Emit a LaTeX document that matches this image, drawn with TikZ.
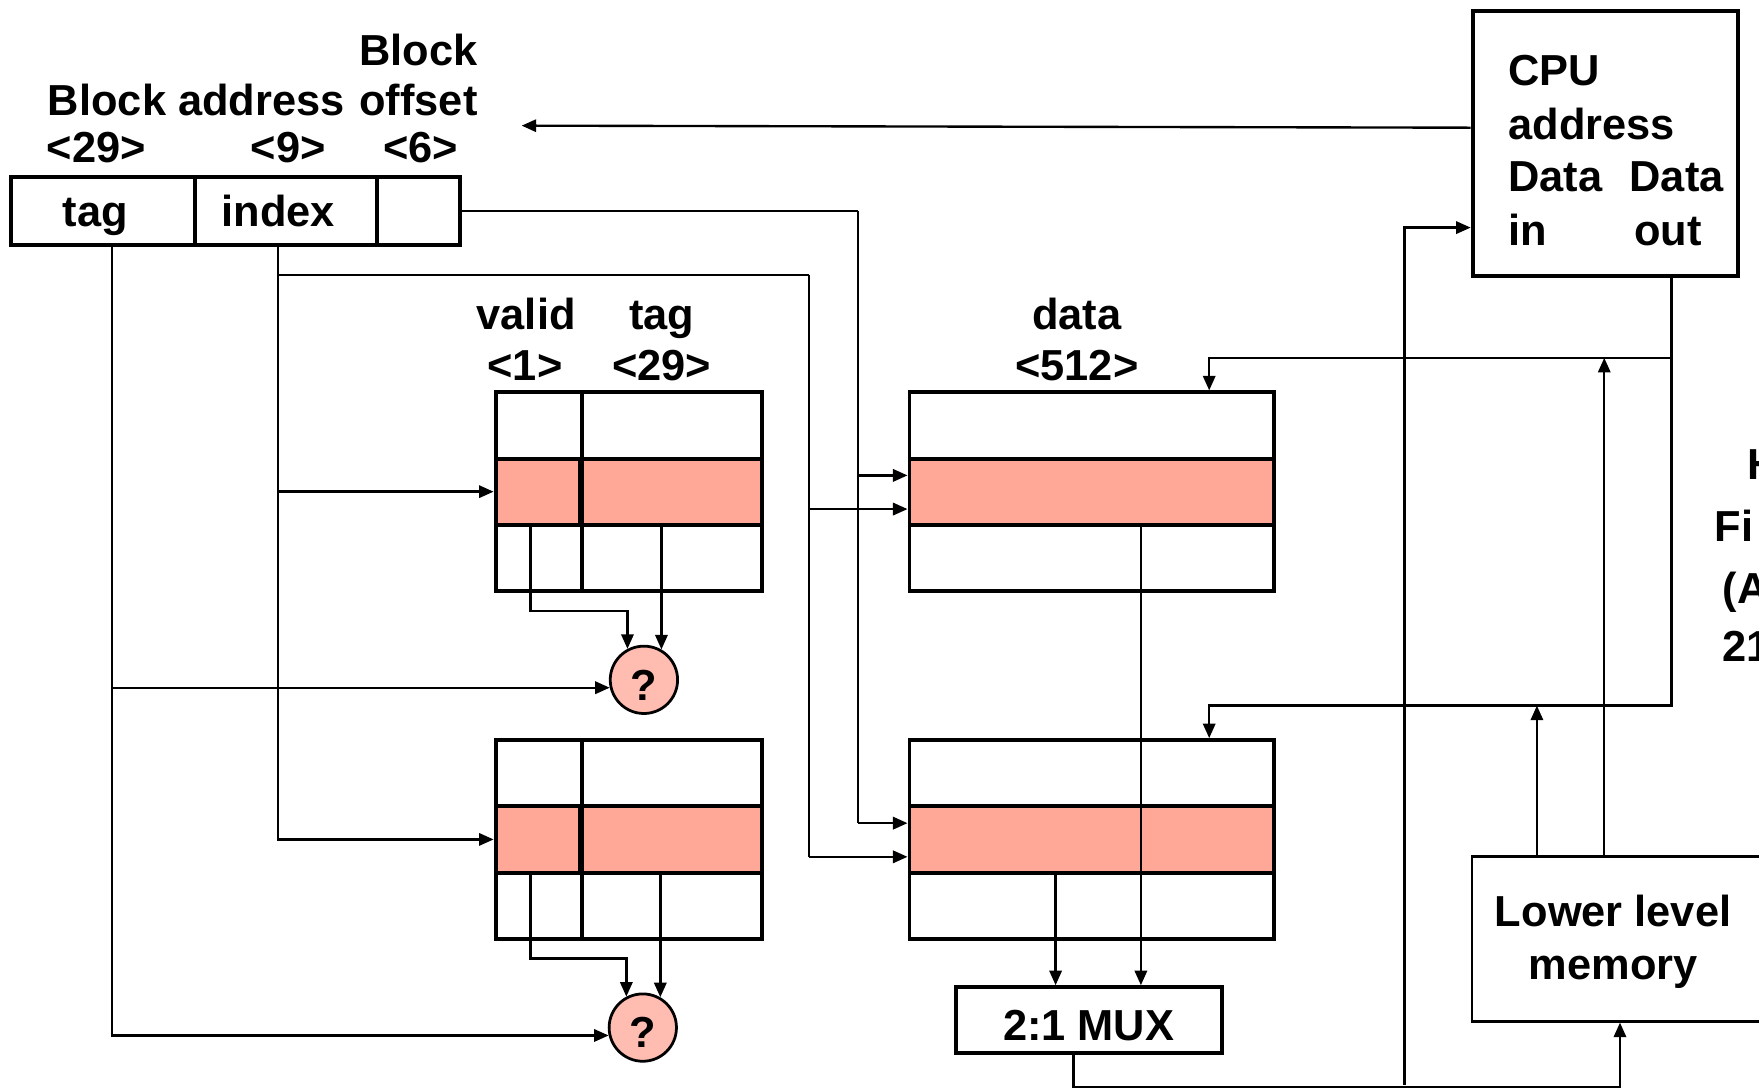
\documentclass[tikz,border=0pt]{standalone}
\usepackage{fontspec}
\setmainfont{Liberation Sans}
\usetikzlibrary{arrows.meta,positioning}
\definecolor{hitrow}{HTML}{FFA898}
\definecolor{cmpfill}{HTML}{FFBCB0}
\begin{document}
\begin{tikzpicture}[x=0.01cm,y=-0.01cm,
  every node/.style={font=\fontsize{11}{13.6}\selectfont\bfseries,inner sep=0pt},
  field/.style={draw,line width=1pt,minimum height=6mm,text height=2.8mm,text depth=0pt},
  frame/.style={draw,line width=1pt,minimum height=17.7mm},
  row/.style={draw,line width=1pt,fill=hitrow,minimum height=5.9mm},
  cmp/.style={draw,circle,line width=0.7pt,fill=cmpfill,minimum size=6mm,text height=3.6mm,text depth=0pt},
  box/.style={draw,line width=1pt},
  wire/.style={line width=0.6pt},
  arr/.style={wire,-{Triangle[length=1.3mm,width=1.1mm]}}]
  \useasboundingbox (0,0) rectangle (1568,969);
  \node[field,minimum width=16.4mm] (ftag) at (92,188) {tag\hspace*{1.4mm}};
  \node[field,minimum width=16.2mm] (fidx) at (255,188) {index\hspace*{1.4mm}};
  \node[field,minimum width=7.4mm] (foff) at (373,188) {};
  \node[anchor=base] (lblk) at (373,58) {Block};
  \node[anchor=base] (loff) at (373,103) {offset};
  \node[anchor=base] (laddr) at (175,103) {Block address};
  \node[anchor=base] (ltagw) at (86,145) {<29>};
  \node[anchor=base] (lidxw) at (257,145) {<9>};
  \node[anchor=base] (loffw) at (375,145) {<6>};
  \foreach \s/\y in {a/348,b/658} {
    \node[frame,minimum width=23.7mm,anchor=north west] (tf\s) at (440,\y) {};
    \node[row,minimum width=7.5mm,anchor=north west] (v\s) at (440,\y+59) {};
    \node[row,minimum width=16.2mm,anchor=north west] (t\s) at (515,\y+59) {};
    \draw[line width=1pt] (v\s.east |- tf\s.north) -- (v\s.east |- tf\s.south);
    \node[frame,minimum width=32.5mm,anchor=north west] (df\s) at (809,\y) {};
    \node[row,minimum width=32.5mm,anchor=north west] (d\s) at (809,\y+59) {};
  }
  \node[anchor=base] (lval) at (469,294) {valid};
  \node[anchor=base] (lvalw) at (468,339) {<1>};
  \node[anchor=base] (ltg) at (590,294) {tag};
  \node[anchor=base] (ltgw) at (590,339) {<29>};
  \node[anchor=base] (ldat) at (960,294) {data};
  \node[anchor=base] (ldatw) at (960,339) {<512>};
  \node[cmp] (qa) at (574,606) {?};
  \node[cmp] (qb) at (573,916) {?};
  \node[box,minimum width=23.7mm,minimum height=5.9mm,text height=3.6mm,text depth=0pt] (mux) at (970.5,909.5) {2:1 MUX};
  \node[box,minimum width=23.6mm,minimum height=23.6mm,anchor=north west] (cpu) at (1311,8) {};
  \node[anchor=base west] (lcpu) at (1344,76) {CPU};
  \node[anchor=base west] (lcpua) at (1344,124) {address};
  \node[anchor=base west] (ldin) at (1344,171) {Data};
  \node[anchor=base west] (ldout) at (1452,171) {Data};
  \node[anchor=base west] (lin) at (1344,219) {in};
  \node[anchor=base west] (lout) at (1456,219) {out};
  \node[box,line width=0.7pt,minimum width=30mm,minimum height=14.7mm,anchor=north west] (mem) at (1311,762) {};
  \node[anchor=base] (lmem) at (1438,826) {Lower level};
  \node[anchor=base] (lmemb) at (1438,873) {memory};
  \node[anchor=base west] (lh) at (1557,427) {H};
  \node[anchor=base west] (lfi) at (1528,483) {Fi};
  \node[anchor=base west] (la) at (1535,538) {(A};
  \node[anchor=base west] (lnum) at (1535,590) {21};
  \coordinate (tagbus) at (100,218);
  \coordinate (idxbus) at (248,218);
  \coordinate (ixrt) at (721,245);
  \coordinate (ofrt) at (765,188);
  \draw[arr] (tagbus) |- (qb.193);
  \draw[arr] (tagbus |- qa.193) -- (qa.193);
  \draw[arr] (idxbus) |- (vb.west);
  \draw[arr] (idxbus |- va.west) -- (va.west);
  \draw[wire] (idxbus |- ixrt) -- (ixrt);
  \draw[wire] (foff.east) -- (ofrt);
  \foreach \s in {a,b} {
    \coordinate (oin\s) at ([yshift=1.45mm]d\s.west);
    \coordinate (iin\s) at ([yshift=-1.55mm]d\s.west);
    \draw[arr] (ofrt |- oin\s) -- (oin\s);
    \draw[arr] (ixrt |- iin\s) -- (iin\s);
    \draw[arr] ([xshift=-0.65mm]v\s.south) -- ++(0,75) -| (q\s.118);
    \draw[arr] (q\s.60 |- t\s.south) -- (q\s.60);
  }
  \draw[wire] (ofrt) -- (ofrt |- oinb);
  \draw[wire] (ixrt) -- (ixrt |- iinb);
  \coordinate (muxa) at ([xshift=4.65mm]mux.north);
  \coordinate (muxb) at ([xshift=-2.95mm]mux.north);
  \draw[arr] (muxa |- da.south) -- (muxa);
  \draw[arr] (muxb |- db.south) -- (muxb);
  \coordinate (memin) at ([xshift=13.3mm]mem.south west);
  \coordinate (din) at (1252,967);
  \draw[arr] ([xshift=-1.35mm]mux.south) -- ++(0,28) -| (memin);
  \draw[arr] (din) |- ([yshift=-7.5mm]cpu.west);
  \coordinate (addrtip) at (465,112);
  \draw[arr] ([yshift=1.4mm]cpu.west) -- (addrtip);
  \coordinate (dout) at ([xshift=5.9mm]cpu.south);
  \draw[arr] (dout) -- (dout |- 0,629) -| ([xshift=10.45mm]dfb.north);
  \draw[arr] (dout |- 0,319) -| ([xshift=10.45mm]dfa.north);
  \draw[arr] ([xshift=11.9mm]mem.north west) -- ++(0,-443);
  \draw[arr] ([xshift=5.9mm]mem.north west) -- ++(0,-133);
\end{tikzpicture}
\end{document}
